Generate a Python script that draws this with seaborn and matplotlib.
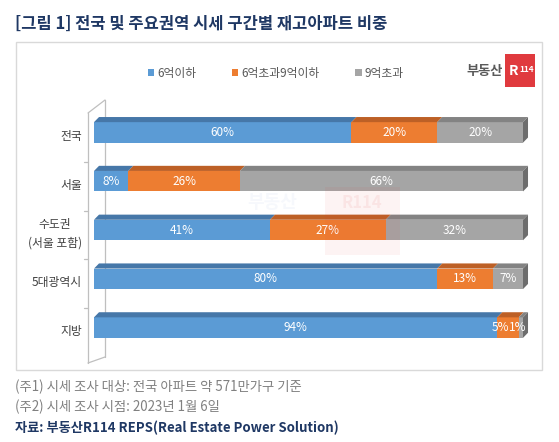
import pandas as pd
import matplotlib.pyplot as plt
import seaborn as sns
from matplotlib.patches import Polygon, Rectangle
from matplotlib.lines import Line2D
from matplotlib.transforms import ScaledTranslation, blended_transform_factory

# data
regions = ['전국', '서울', '수도권\n(서울 포함)', '5대광역시', '지방']
under6 = [60, 8, 41, 80, 94]
mid6to9 = [20, 26, 27, 13, 5]
over9 = [20, 66, 32, 7, 1]
series_names = ['6억이하', '6억초과9억이하', '9억초과']

title = '[그림 1] 전국 및 주요권역 시세 구간별 재고아파트 비중'
note1 = '(주1) 시세 조사 대상: 전국 아파트 약 571만가구 기준'
note2 = '(주2) 시세 조사 시점: 2023년 1월 6일'
source = '자료: 부동산R114 REPS(Real Estate Power Solution)'

colors = ['#5b9bd5', '#ed7d31', '#a5a5a5']
top_colors = ['#4677a8', '#bd6026', '#838383']

sns.set_theme(style='white')
plt.rcParams['font.family'] = ['Noto Sans CJK KR', 'DejaVu Sans']

W, H = 559, 442
fig = plt.figure(figsize=(W / 100, H / 100), dpi=100)


# helpers: pixel position (from top-left) -> figure fraction
def fx(x):
    return x / W


def fy(y):
    return 1 - y / H


ax = fig.add_axes([fx(94), fy(352), 429 / W, 244 / H])
ax.set_facecolor('none')

df = pd.DataFrame({'region': regions, 'a': under6, 'b': mid6to9, 'c': over9})
df['cum_a'] = df['a']
df['cum_b'] = df['a'] + df['b']
df['cum_c'] = df['a'] + df['b'] + df['c']

# stacked bars: draw the longest cumulative first
for col, color in [('cum_c', colors[2]), ('cum_b', colors[1]), ('cum_a', colors[0])]:
    sns.barplot(data=df, x=col, y='region', orient='h', color=color,
                width=0.42, saturation=1, linewidth=0, ax=ax)

ax.set_xlim(0, 100)
ax.set_ylim(4.5, -0.5)
ax.set_xlabel('')
ax.set_ylabel('')
ax.set_xticks([])
ax.set_yticks([])
for s in ax.spines.values():
    s.set_visible(False)

# small labels squeezed together at the end of 지방 bar
nudge = {(4, 1): -8, (4, 2): -3}

# fake 3D: top faces and right cap
dx, dy = 1.17, 0.105
half = 0.21
for i in range(len(regions)):
    segs = [under6[i], mid6to9[i], over9[i]]
    start = 0
    top = i - half
    for j, v in enumerate(segs):
        x0, x1 = start, start + v
        ax.add_patch(Polygon([(x0, top), (x1, top), (x1 + dx, top - dy), (x0 + dx, top - dy)],
                             closed=True, fc=top_colors[j], ec='none', clip_on=False))
        ax.annotate(f'{v}%', xy=((x0 + x1) / 2, i), xytext=(nudge.get((i, j), 0), 0),
                    textcoords='offset pixels', color='white', fontsize=8.5,
                    ha='center', va='center', annotation_clip=False)
        start = x1
    ax.add_patch(Polygon([(start, top), (start + dx, top - dy), (start + dx, i + half - dy), (start, i + half)],
                         closed=True, fc='#6d6d6d', ec='none', clip_on=False))
    # category label
    ax.annotate(regions[i], xy=(0, i), xycoords=('axes fraction', 'data'),
                xytext=(-12, -4), textcoords='offset pixels', ha='right', va='center',
                multialignment='center', linespacing=1.55, fontsize=8.5, color='#404040')

# 3D wall on the left
wall = '#bfbfbf'
for xs, ys, z in [([88, 88], [113, 363], 3), ([105, 105], [100, 357], -1),
                  ([88, 105], [113, 100], 3), ([88, 105], [363, 357], 3)]:
    fig.add_artist(Line2D([fx(x) for x in xs], [fy(y) for y in ys], transform=fig.transFigure,
                          color=wall, lw=0.9, zorder=z))
tick_tr = blended_transform_factory(fig.transFigure, ax.transData) + \
    ScaledTranslation(0, -0.05, fig.dpi_scale_trans)
for b in [0.5, 1.5, 2.5, 3.5]:
    fig.add_artist(Line2D([fx(84), fx(88)], [b, b], transform=tick_tr, color=wall, lw=0.9))

# legend
handles = [Rectangle((0, 0), 1, 1, fc=c, ec='none') for c in colors]
fig.legend(handles, series_names, loc='center left', bbox_to_anchor=(fx(148), fy(73)),
           ncol=3, frameon=False, fontsize=8.5, labelcolor='#595959',
           handlelength=0.55, handleheight=0.55, handletextpad=0.25,
           columnspacing=3.0, borderpad=0, borderaxespad=0)

# logo top right
fig.text(fx(503), fy(71), '부동산', fontsize=9.5, fontweight='bold', color='#5a5a5a',
         ha='right', va='center')
fig.add_artist(Rectangle((fx(505), fy(87)), 30 / W, 33 / H, transform=fig.transFigure,
                         fc='#e03a3e', ec='none'))
fig.text(fx(513), fy(71), 'R', fontsize=10, fontweight='bold', color='white',
         ha='center', va='center')
fig.text(fx(527), fy(70), '114', fontsize=6, fontweight='bold', color='white',
         ha='center', va='center')

# faint watermark (text kept in the gap between bars)
fig.add_artist(Rectangle((fx(325), fy(255)), 75 / W, 68 / H, transform=fig.transFigure,
                         fc='#e03a3e', ec='none', alpha=0.06, zorder=5))
fig.text(fx(272), fy(203), '부동산', fontsize=13, fontweight='bold', color='#8ea9db',
         alpha=0.08, ha='center', va='center', zorder=5)
fig.text(fx(362), fy(203), 'R114', fontsize=12, fontweight='bold', color='#e03a3e',
         alpha=0.08, ha='center', va='center', zorder=5)

# chart frame
fig.add_artist(Rectangle((fx(16), fy(370)), (542 - 16) / W, (370 - 42) / H,
                         transform=fig.transFigure, fill=False, ec='#d9d9d9', lw=1))

# title and notes
fig.text(fx(15), fy(24), title, fontsize=11.9, fontweight='bold', color='#1f3864', va='center')
fig.text(fx(15), fy(387), note1, fontsize=9.6, color='#808080', va='center')
fig.text(fx(15), fy(407), note2, fontsize=9.6, color='#808080', va='center')
fig.text(fx(15), fy(428), source, fontsize=9.5, fontweight='bold', color='#1f3864', va='center')

fig.savefig('out.png', dpi=100)
